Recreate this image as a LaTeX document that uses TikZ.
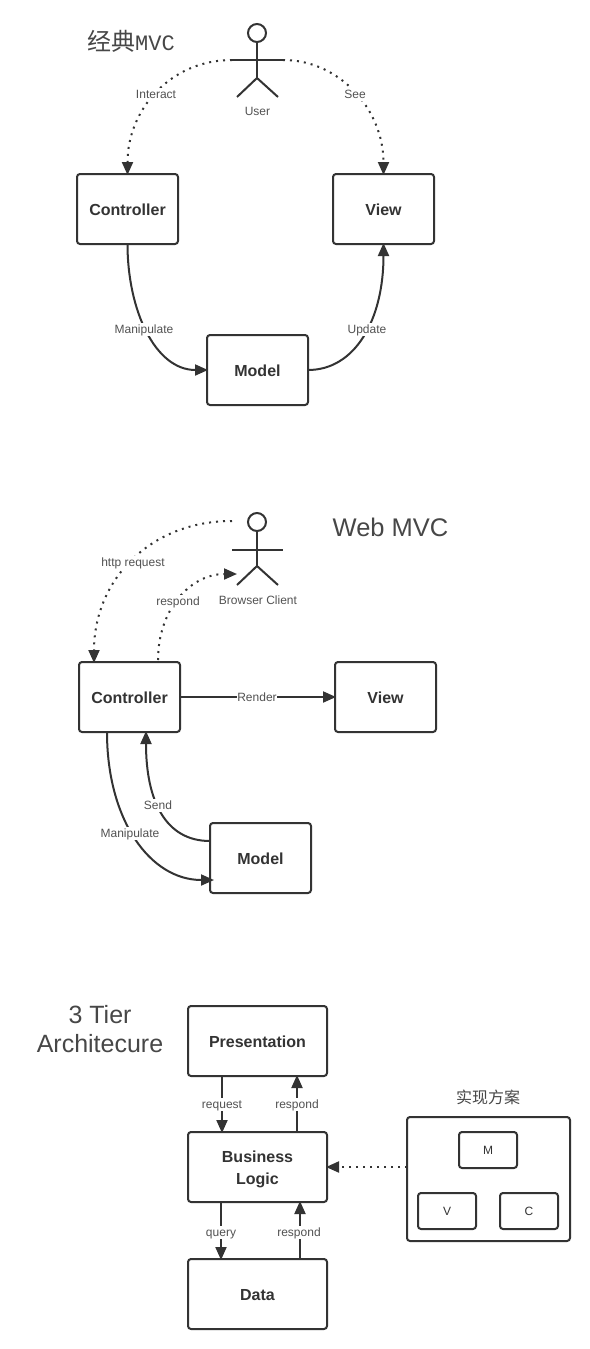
\documentclass[tikz,border=0pt]{standalone}
\usepackage{fontspec}
\setmainfont{Liberation Sans}
\newfontfamily\cjkfont{Noto Sans CJK SC}[Scale=1]
\newfontfamily\monofont{Liberation Mono}
\usetikzlibrary{arrows.meta,calc}
\definecolor{ink}{HTML}{333333}
\newcommand\dn[1]{\raisebox{-1pt}[\height][\depth]{#1}}
\tikzset{
  x=1pt,y=-1pt,
  bx/.style={draw=ink,line width=2pt,rounded corners=3pt,fill=white,inner sep=0pt,outer sep=0pt,text=ink,align=center},
  mainbox/.style={bx,minimum width=101pt,minimum height=70pt,font=\fontsize{16}{22}\selectfont\bfseries},
  tierbox/.style={bx,minimum width=139pt,minimum height=70pt,font=\fontsize{16}{22}\selectfont\bfseries},
  smallbox/.style={bx,minimum width=58pt,minimum height=36pt,font=\fontsize{12}{14}\selectfont},
  lbl/.style={fill=white,inner xsep=0.5pt,inner ysep=0.5pt,text height=10pt,text depth=2pt,text=ink!85,font=\fontsize{12}{14}\selectfont},
  free/.style={inner sep=0pt,text=ink!90},
  tip/.style={-{Triangle[length=13pt,width=11pt]},shorten >=-1pt},
  solidc/.style={draw=ink,line width=2pt,tip},
  dotc/.style={draw=ink,line width=2pt,tip,dash pattern=on 2pt off 5pt},
  limb/.style={draw=ink,line width=2pt},
  headc/.style={circle,draw=ink,line width=2pt,minimum size=18pt,inner sep=0pt,outer sep=0pt}
}
\begin{document}
\begin{tikzpicture}
\useasboundingbox (0,0) rectangle (589,1349);
% --- classic MVC
\node[free,font=\fontsize{24}{28}\selectfont] (t1) at (131,41) {{\cjkfont 经典}{\monofont\fontsize{22}{26}\selectfont MVC}};
\node[headc] (h1) at (257,33) {};
\coordinate (hip1) at (257,78);
\coordinate (al1) at (232,60);
\coordinate (ar1) at (283,60);
\coordinate (ll1) at (237,97);
\coordinate (lr1) at (278,97);
\draw[limb] (h1.south) -- (hip1);
\draw[limb] (al1) -- (ar1);
\draw[limb] (ll1) -- (hip1) -- (lr1);
\node[lbl,fill=none] (u1) at (257.5,111) {User};
\node[mainbox] (c1) at (127.5,209) {\dn{Controller}};
\node[mainbox] (v1) at (383.5,209) {\dn{View}};
\node[mainbox] (m1) at (257.5,370) {\dn{Model}};
\draw[dotc] (al1) .. controls (170,60) and (127.5,110) .. (c1.north);
\draw[dotc] (ar1) .. controls (340,60) and (383.5,110) .. (v1.north);
\draw[solidc] (c1.south) .. controls (127.5,310) and (155,370) .. (m1.west);
\draw[solidc] (m1.east) .. controls (355,370) and (383.5,320) .. (v1.south);
\node[lbl] (li) at (156,94) {Interact};
\node[lbl] (ls) at (355,94) {See};
\node[lbl] (lm1) at (144,329) {Manipulate};
\node[lbl] (lup) at (367,329) {Update};
% --- Web MVC
\node[free,font=\fontsize{25.5}{30}\selectfont] (t2) at (390.5,527) {Web MVC};
\node[headc] (h2) at (257,522) {};
\coordinate (hip2) at (257,566);
\coordinate (al2) at (232,550);
\coordinate (ar2) at (283,550);
\coordinate (ll2) at (237,585);
\coordinate (lr2) at (278,585);
\coordinate (httpstart) at (232,521);
\coordinate (respend) at (236,574);
\draw[limb] (h2.south) -- (hip2);
\draw[limb] (al2) -- (ar2);
\draw[limb] (ll2) -- (hip2) -- (lr2);
\node[lbl,fill=none] (u2) at (258,600) {Browser Client};
\node[mainbox] (c2) at (129.5,697) {\dn{Controller}};
\node[mainbox] (v2) at (385.5,697) {\dn{View}};
\node[mainbox] (m2) at (260.5,858) {\dn{Model}};
\coordinate (c2in) at (94,662);
\coordinate (c2out) at (158,662);
\coordinate (c2man) at (107,732);
\coordinate (c2send) at (146,732);
\coordinate (m2man) at (213,880);
\coordinate (m2send) at (210,841);
\draw[dotc] (httpstart) .. controls (150,521) and (94,580) .. (c2in);
\draw[dotc,shorten <=2pt] (c2out) .. controls (158,610) and (190,574) .. (respend);
\draw[solidc] (c2.east) -- (v2.west);
\draw[solidc] (c2man) .. controls (107,820) and (150,880) .. (m2man);
\draw[solidc] (m2send) .. controls (165,841) and (146,800) .. (c2send);
\node[lbl] (lhr) at (133,562) {http request};
\node[lbl] (lrs) at (178,601) {respond};
\node[lbl] (lrn) at (257,697) {Render};
\node[lbl] (lsn) at (158,805) {Send};
\node[lbl] (lm2) at (130,833) {Manipulate};
% --- 3 tier
\node[free,font=\fontsize{25}{29}\selectfont,align=center] (t3) at (100,1029) {3 Tier\\Architecure};
\node[tierbox] (p3) at (257.5,1041) {\dn{Presentation}};
\node[tierbox] (b3) at (257.5,1167) {\raisebox{-2pt}[\height][\depth]{\begin{tabular}{@{}c@{}}Business\\Logic\end{tabular}}};
\node[tierbox] (d3) at (257.5,1294) {\dn{Data}};
\coordinate (pa) at (222,1076);
\coordinate (pb) at (222,1132);
\coordinate (qa) at (297,1132);
\coordinate (qb) at (297,1076);
\coordinate (ra) at (221,1202);
\coordinate (rb) at (221,1259);
\coordinate (sa) at (300,1259);
\coordinate (sb) at (300,1202);
\draw[solidc] (pa) -- (pb);
\draw[solidc] (qa) -- (qb);
\draw[solidc] (ra) -- (rb);
\draw[solidc] (sa) -- (sb);
\node[lbl] (l3a) at (222,1104) {request};
\node[lbl] (l3b) at (297,1104) {respond};
\node[lbl] (l3c) at (221,1232) {query};
\node[lbl] (l3d) at (299,1232) {respond};
\node[bx,minimum width=163pt,minimum height=124pt] (big) at (488.5,1179) {};
\node[smallbox] (mm) at (488,1150) {M};
\node[smallbox] (vv) at (447,1211) {V};
\node[smallbox] (cc) at (529,1211) {C};
\node[free,font=\fontsize{16}{20}\selectfont] (t4) at (488,1097) {\cjkfont 实现方案};
\coordinate (bigw) at (407,1167);
\coordinate (bize) at (327,1167);
\draw[dotc] (bigw) -- (bize);
\end{tikzpicture}
\end{document}
